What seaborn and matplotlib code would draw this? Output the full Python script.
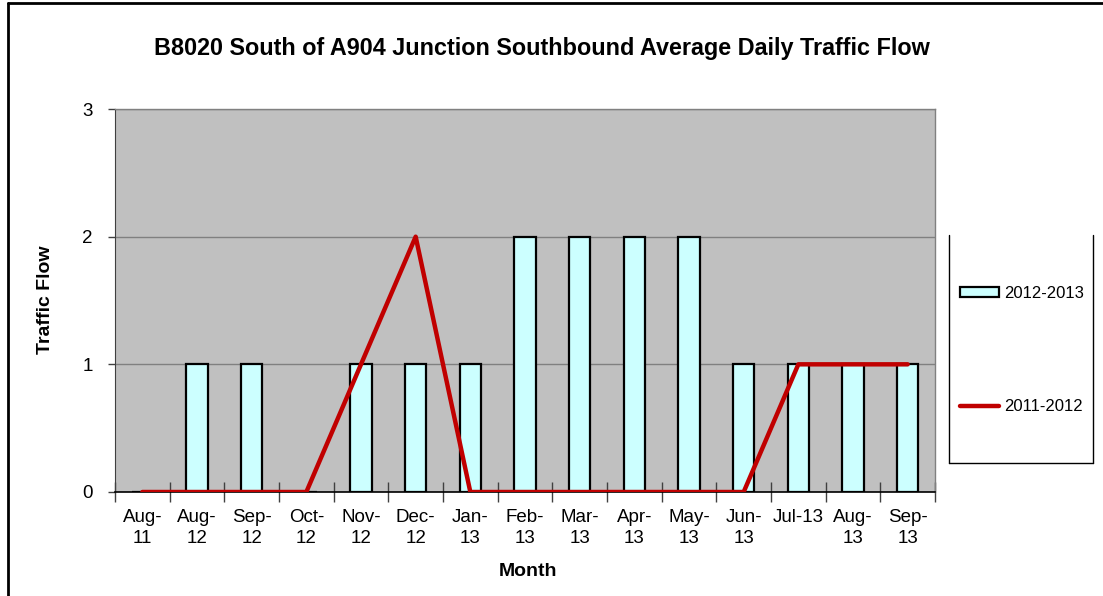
import matplotlib
matplotlib.use("Agg")
import matplotlib.pyplot as plt
import seaborn as sns
import pandas as pd
import numpy as np
from matplotlib.lines import Line2D
from matplotlib.patches import Patch

months = ["Aug-\n11", "Aug-\n12", "Sep-\n12", "Oct-\n12", "Nov-\n12", "Dec-\n12", "Jan-\n13",
          "Feb-\n13", "Mar-\n13", "Apr-\n13", "May-\n13", "Jun-\n13", "Jul-13", "Aug-\n13", "Sep-\n13"]
flow_2012_2013 = [0, 1, 1, 0, 1, 1, 1, 2, 2, 2, 2, 1, 1, 1, 1]
flow_2011_2012 = [0, 0, 0, 0, 1, 2, 0, 0, 0, 0, 0, 0, 1, 1, 1]

sns.set_style("white")
plt.rcParams['font.family'] = ['Liberation Sans', 'DejaVu Sans']
plt.rcParams['text.color'] = 'black'
plt.rcParams['xtick.color'] = 'black'
plt.rcParams['ytick.color'] = 'black'

W, H = 1103, 596
fig = plt.figure(figsize=(W / 100, H / 100), dpi=100)
ax = fig.add_axes([115 / W, 1 - 492 / H, (935 - 115) / W, (492 - 109) / H])

df = pd.DataFrame({"Month": months, "b": flow_2012_2013, "l": flow_2011_2012, "pos": np.arange(len(months))})

ax.set_facecolor("#C0C0C0")
sns.barplot(data=df, x="Month", y="b", ax=ax, color="#CCFFFF", width=0.39,
            edgecolor="black", linewidth=1.6, saturation=1, zorder=3)
sns.lineplot(data=df, x="pos", y="l", ax=ax, color="#C00000", linewidth=3.2, zorder=4)

ax.set_xlim(-0.5, len(months) - 0.5)
ax.set_ylim(0, 3)
ax.set_yticks([0, 1, 2, 3])
ax.yaxis.grid(True, color="#808080", linewidth=1)
ax.xaxis.grid(False)
ax.set_axisbelow(True)

ax.set_xticks(np.arange(len(months)))
ax.set_xticklabels(months, fontsize=13.5, linespacing=1.35)
ax.set_xticks(np.arange(-0.5, len(months)), minor=True)
ax.tick_params(axis="x", which="major", bottom=True, length=0, pad=12, labelcolor="black")
ax.tick_params(axis="x", which="minor", bottom=True, direction="inout", length=14, width=1, color="#404040")
ax.tick_params(axis="y", left=True, direction="out", length=5, width=1, color="#404040",
               labelsize=13.5, pad=11, labelcolor="black")

for s in ["top", "right"]:
    ax.spines[s].set_color("#808080")
    ax.spines[s].set_linewidth(1)
ax.spines["left"].set_color("#404040")
ax.spines["bottom"].set_color("black")
ax.spines["bottom"].set_linewidth(1.2)

ax.set_xlabel("")
ax.set_ylabel("")
fig.text(528 / W, 1 - 571 / H, "Month", ha="center", va="center", fontsize=14, fontweight="bold")
fig.text(45 / W, 1 - 300 / H, "Traffic Flow", ha="center", va="center", rotation=90, fontsize=14, fontweight="bold")
fig.text(542 / W, 1 - 48 / H, "B8020 South of A904 Junction Southbound Average Daily Traffic Flow",
         ha="center", va="center", fontsize=16.8, fontweight="bold")

# legend frame (left, right, bottom)
lx0, lx1, ly0, ly1 = 949 / W, 1093 / W, 1 - 463 / H, 1 - 235 / H
for xs, ys in [([lx0, lx0], [ly0, ly1]), ([lx1, lx1], [ly0, ly1]), ([lx0, lx1], [ly0, ly0])]:
    fig.add_artist(Line2D(xs, ys, color="black", linewidth=1))

handles = [Patch(facecolor="#CCFFFF", edgecolor="black", linewidth=1.6),
           Line2D([0], [0], color="#C00000", linewidth=3.2)]
leg = fig.legend(handles, ["2012-2013", "2011-2012"], loc="center left",
                 bbox_to_anchor=(952 / W, 1 - 350 / H), frameon=False, fontsize=12,
                 handlelength=2.3, handleheight=0.6, handletextpad=0.3, labelspacing=5.9,
                 borderpad=0)

# outer figure border (left & top)
fig.add_artist(Line2D([8 / W, 8 / W], [0, 1 - 3 / H], color="black", linewidth=2))
fig.add_artist(Line2D([8 / W, 1], [1 - 3 / H, 1 - 3 / H], color="black", linewidth=2))

fig.savefig("out.png", dpi=100)
